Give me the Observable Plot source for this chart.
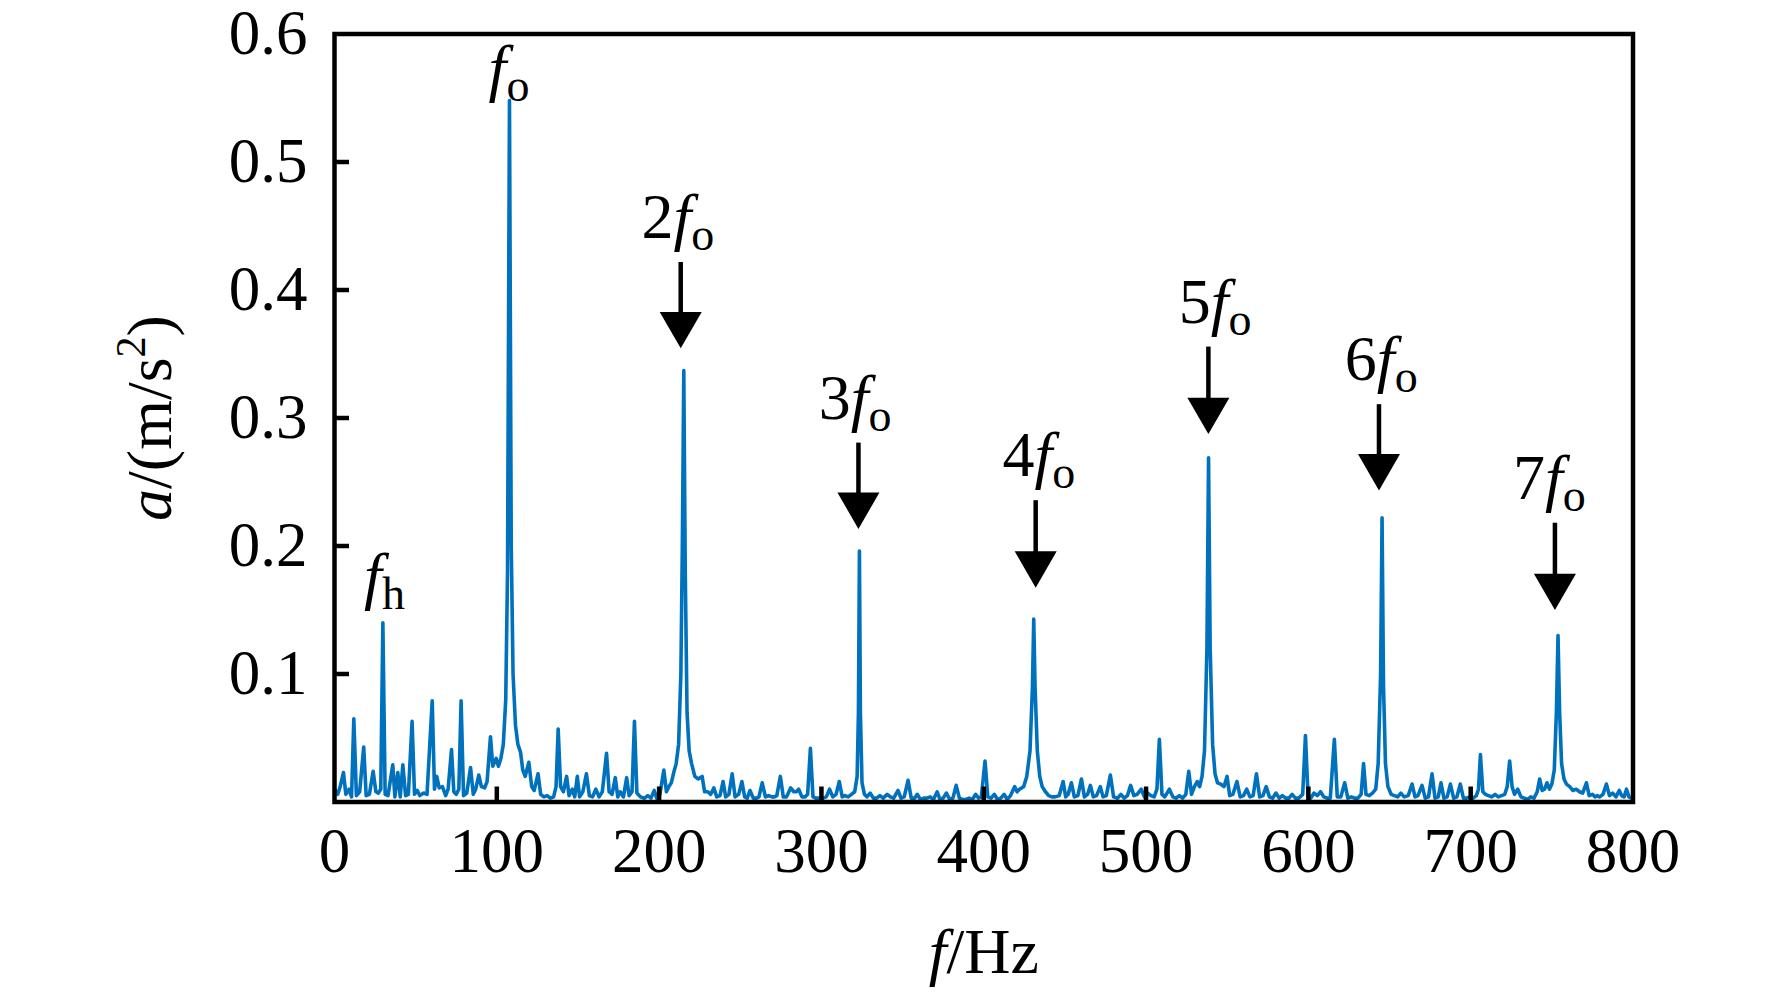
<!DOCTYPE html>
<html>
<head>
<meta charset="utf-8">
<script src="https://cdn.jsdelivr.net/npm/d3@7"></script>
<script src="https://cdn.jsdelivr.net/npm/@observablehq/plot@0.6"></script>
<style>
  html, body { margin: 0; padding: 0; background: #fff; }
  svg { display: block; }
</style>
</head>
<body>
<div id="chart"></div>
<script>
// ---- data ----
// spectrum: [frequency (Hz), acceleration amplitude (m/s^2)]
const spectrum = [
  [0,0.010],[2,0.006],[3.5,0.012],[5.5,0.023],[7,0.006],[9,0.010],[10.5,0.004],[11.9,0.065],
  [13.5,0.005],[15.5,0.008],[18,0.043],[19.5,0.005],[21.5,0.006],[23.8,0.024],[25.5,0.008],
  [27,0.007],[28.5,0.010],[29.8,0.140],[31.2,0.006],[33,0.005],[35.9,0.029],[37.2,0.004],
  [39,0.023],[40.5,0.004],[42.1,0.029],[43.8,0.005],[45.5,0.006],[47.8,0.063],[49.3,0.006],
  [51,0.009],[52.5,0.005],[55,0.007],[57,0.006],[60.2,0.079],[61.6,0.010],[63,0.020],
  [64.5,0.011],[66.5,0.012],[68.5,0.005],[70,0.010],[72.1,0.041],[73.5,0.008],[75,0.006],
  [76.6,0.010],[78,0.079],[79.5,0.005],[81.5,0.007],[83.8,0.027],[85.5,0.006],[87,0.010],
  [88.9,0.021],[90.5,0.012],[92.5,0.011],[94,0.016],[96.1,0.051],[97.5,0.028],[99.6,0.034],
  [101,0.028],[102.5,0.034],[104,0.045],[105.5,0.080],[106.6,0.180],[107.8,0.548],[108.9,0.200],
  [110,0.100],[111.5,0.060],[113,0.045],[114.6,0.039],[116,0.025],[117.5,0.020],[119.7,0.031],
  [121.5,0.012],[123,0.009],[125.4,0.022],[127,0.006],[129,0.004],[131,0.005],[133,0.003],
  [135,0.004],[136.5,0.012],[137.8,0.057],[139.3,0.012],[141,0.008],[143,0.020],[144.5,0.005],
  [146.5,0.010],[148,0.004],[149.6,0.020],[151,0.004],[153,0.008],[155.2,0.022],[157,0.005],
  [159,0.004],[161,0.010],[163,0.004],[165,0.008],[167.6,0.038],[169.2,0.008],[171,0.006],
  [173,0.019],[174.5,0.004],[176,0.008],[178,0.004],[180,0.019],[181.5,0.005],[183.3,0.008],
  [184.8,0.063],[186.3,0.007],[188.5,0.004],[191,0.003],[193,0.005],[195,0.003],[197,0.009],
  [198.5,0.003],[200.5,0.006],[202.9,0.025],[204.5,0.008],[206,0.012],[207.5,0.015],[209,0.023],
  [210.5,0.030],[212,0.045],[213.4,0.100],[214.3,0.200],[215.2,0.337],[216.1,0.180],[217.2,0.070],
  [218.5,0.040],[220,0.030],[222,0.020],[224,0.018],[226.5,0.020],[228,0.008],[230,0.008],
  [231.8,0.006],[233.7,0.011],[235.5,0.004],[237.5,0.005],[239.4,0.016],[241,0.004],[243,0.006],
  [245,0.022],[246.8,0.004],[249,0.006],[251,0.016],[252.7,0.004],[254.3,0.003],[256,0.009],
  [258,0.003],[260,0.003],[261.5,0.004],[263.5,0.015],[265.5,0.004],[267.5,0.005],[269.5,0.004],
  [271,0.004],[272.5,0.005],[274.7,0.020],[276.5,0.004],[278.5,0.004],[281,0.011],[283,0.008],
  [284.5,0.008],[286,0.010],[288,0.004],[290,0.004],[291.5,0.006],[293.2,0.042],[294.8,0.004],
  [296.5,0.003],[299,0.003],[301,0.003],[303,0.004],[305,0.010],[307,0.004],[309,0.006],
  [311,0.016],[312.8,0.004],[314.5,0.005],[316.5,0.004],[318.5,0.006],[320.5,0.008],[322,0.020],
  [322.8,0.070],[323.4,0.196],[324,0.070],[325,0.015],[326.5,0.006],[328,0.004],[330,0.007],
  [332,0.003],[334,0.003],[336,0.005],[338,0.003],[340.5,0.006],[342.5,0.004],[344.5,0.003],
  [347.2,0.009],[349,0.003],[351,0.004],[353.4,0.017],[355.3,0.003],[357.5,0.003],[359,0.006],
  [361,0.002],[363,0.003],[365,0.003],[367,0.004],[369,0.002],[371.3,0.008],[373,0.002],
  [375,0.003],[377,0.007],[379,0.002],[381,0.003],[383,0.013],[385,0.003],[387,0.002],
  [389,0.002],[391,0.003],[393,0.002],[395,0.006],[396.8,0.003],[398.5,0.004],[400.8,0.032],
  [402.5,0.004],[404.5,0.003],[406.5,0.006],[408.5,0.002],[410.5,0.003],[412.5,0.006],[414.5,0.002],
  [416.5,0.005],[419,0.012],[420.5,0.008],[422,0.010],[424.6,0.012],[426.5,0.020],[428.5,0.040],
  [430,0.090],[430.8,0.143],[431.6,0.090],[433,0.040],[434.5,0.020],[436,0.012],[438,0.008],
  [440,0.005],[442,0.004],[444,0.004],[446.5,0.005],[448.9,0.016],[450.5,0.004],[452,0.006],
  [454,0.015],[455.8,0.004],[458,0.005],[460.2,0.018],[462,0.004],[464,0.006],[465.7,0.013],
  [467.5,0.004],[469.5,0.005],[471.8,0.012],[473.5,0.004],[475.5,0.005],[478,0.021],[480,0.004],
  [482.5,0.003],[484.5,0.006],[486.5,0.003],[488.5,0.005],[490.5,0.013],[492.5,0.005],[494.5,0.006],
  [497,0.010],[499,0.004],[501,0.007],[503,0.005],[505,0.004],[506.7,0.010],[508.2,0.049],
  [509.8,0.006],[511.5,0.004],[514.4,0.010],[516.5,0.004],[518.5,0.003],[520.5,0.005],[522.5,0.003],
  [524.5,0.006],[526.3,0.024],[528,0.006],[529.8,0.012],[531.5,0.016],[533,0.012],[534.5,0.020],
  [536,0.040],[537.5,0.120],[538.5,0.269],[539.5,0.120],[541,0.045],[542.5,0.022],[544,0.015],
  [546,0.014],[548,0.012],[549.9,0.020],[551.5,0.005],[553.5,0.006],[556,0.016],[558,0.004],
  [560,0.005],[562,0.010],[564,0.004],[566,0.005],[568,0.022],[570,0.004],[572,0.005],
  [574,0.012],[576,0.004],[578,0.003],[580,0.007],[582,0.003],[584,0.005],[586,0.003],
  [588,0.003],[590,0.006],[592,0.003],[594,0.003],[596.5,0.006],[598.2,0.052],[599.8,0.004],
  [601.5,0.003],[603.5,0.007],[605.5,0.005],[607.5,0.008],[609.5,0.004],[611.5,0.003],[613.5,0.003],
  [616,0.049],[617.8,0.004],[620,0.004],[622.4,0.015],[624.3,0.003],[626.5,0.004],[628.5,0.003],
  [630.5,0.003],[632.5,0.006],[634,0.030],[635.5,0.006],[637.5,0.005],[639.5,0.007],[641.5,0.010],
  [643,0.030],[644.5,0.100],[645.4,0.222],[646.3,0.090],[647.5,0.030],[649,0.012],[651,0.006],
  [653,0.005],[655,0.004],[657,0.007],[659,0.004],[661.5,0.005],[663.9,0.014],[665.7,0.004],
  [667.5,0.005],[670,0.013],[672,0.003],[674,0.004],[676.2,0.022],[678,0.003],[680,0.004],
  [681.7,0.015],[683.5,0.003],[685.5,0.004],[687.5,0.014],[689.5,0.003],[691.5,0.004],[693.6,0.014],
  [695.5,0.003],[697.5,0.003],[699.5,0.004],[701.5,0.003],[703.5,0.005],[704.8,0.010],[706,0.037],
  [707.5,0.008],[709,0.006],[711,0.005],[713,0.004],[715,0.006],[717,0.004],[719,0.005],
  [721,0.006],[722.5,0.012],[724,0.032],[725.5,0.012],[727,0.006],[729,0.010],[731,0.004],
  [733,0.003],[735,0.002],[737,0.004],[739,0.003],[741,0.008],[742.5,0.018],[744,0.009],
  [745.5,0.010],[747,0.015],[748.5,0.010],[750,0.014],[751.5,0.025],[752.8,0.070],[753.8,0.130],
  [754.8,0.070],[756,0.030],[757.5,0.018],[759,0.014],[761,0.012],[763,0.009],[765,0.010],
  [767,0.008],[769,0.007],[771.3,0.015],[773,0.005],[775,0.006],[776.5,0.004],[778,0.005],
  [779.5,0.004],[781.5,0.006],[783.6,0.014],[785.5,0.005],[787.5,0.007],[789.5,0.004],[791.5,0.009],
  [793,0.005],[794.5,0.004],[796,0.010],[797.5,0.004],[799,0.003],[800,0.004]
];

// peak annotations
const labelText = ["fh", "fo", "2fo", "3fo", "4fo", "5fo", "6fo", "7fo"];
const labelFreq = [30.8, 107.5, 211.6, 320.7, 434.0, 542.6, 644.9, 748.5];
const labelAmp  = [0.1605, 0.557, 0.4405, 0.2994, 0.2544, 0.3744, 0.3294, 0.2368];

// arrows pointing at the harmonics
const arrowFreq = [213.3, 322.8, 432.0, 538.4, 643.5, 751.9];
const arrowTop  = [0.4215, 0.2804, 0.2354, 0.3554, 0.3104, 0.2178];
const arrowTip  = [0.3545, 0.2134, 0.1675, 0.2875, 0.2434, 0.1500];

// axes
const xTickLabels = [0, 100, 200, 300, 400, 500, 600, 700, 800];
const xTickMarks  = [100, 200, 300, 400, 500, 600, 700];
const yTickLabels = [0.1, 0.2, 0.3, 0.4, 0.5, 0.6];
const yTickMarks  = [0.1, 0.2, 0.3, 0.4, 0.5];
const xTitle = "f/Hz";
const yTitle = "a/(m/s2)";

// ---- chart ----
const W = 1772, H = 994;
const mL = 334, mR = 139.5, mT = 33.5, mB = 192.5;
const plotW = W - mL - mR, plotH = H - mT - mB;
const font = "'Liberation Serif', 'Times New Roman', serif";
const blue = "#0072BD";

const labels = labelText.map((t, i) => ({t, x: labelFreq[i], y: labelAmp[i]}));
const arrows = arrowFreq.map((x, i) => ({x, top: arrowTop[i], tip: arrowTip[i]}));

const svg = Plot.plot({
  width: W, height: H,
  marginLeft: mL, marginRight: mR, marginTop: mT, marginBottom: mB,
  style: {fontFamily: font, background: "#fff", color: "#000", overflow: "visible"},
  x: {domain: [0, 800], label: null},
  y: {domain: [0, 0.6], label: null},
  marks: [
    Plot.line(spectrum, {x: d => d[0], y: d => d[1], stroke: blue, strokeWidth: 3.6, strokeLinejoin: "round"}),
    Plot.tickY(yTickMarks, {y: d => d, stroke: "#000", strokeWidth: 4.5, insetRight: plotW - 15}),
    Plot.tickX(xTickMarks, {x: d => d, stroke: "#000", strokeWidth: 4.5, insetTop: plotH - 15}),
    Plot.frame({stroke: "#000", strokeWidth: 4.5}),
    Plot.axisX(xTickLabels, {tickSize: 0, tickPadding: 25, fontSize: 63, label: null, tickFormat: d => String(d)}),
    Plot.axisY(yTickLabels, {tickSize: 0, tickPadding: 27, fontSize: 63, label: null, tickFormat: d => d.toFixed(1)}),
    Plot.ruleX(arrows, {x: "x", y1: "top", y2: "tip", stroke: "#000", strokeWidth: 4.5, insetBottom: 20}),
    Plot.dot(arrows, {x: "x", y: "tip", symbol: "triangle", r: 15.6, fill: "#000", stroke: null, rotate: 180, dy: -24.2}),
    Plot.text(labels, {x: "x", y: "y", text: "t", fontSize: 64, fill: "#000", textAnchor: "middle", lineAnchor: "middle", dy: -20.5}),
    Plot.text([xTitle], {text: d => d, frameAnchor: "bottom", textAnchor: "middle", lineAnchor: "middle", dy: 151, fontSize: 64, fill: "#000"}),
    Plot.text([yTitle], {text: d => d, frameAnchor: "left", textAnchor: "middle", lineAnchor: "middle", dx: -184, rotate: -90, fontSize: 64, fill: "#000"})
  ]
});

// typographic details: italic symbols, subscripts, superscript
d3.select(svg).selectAll("text").each(function () {
  const t = this.textContent;
  const sel = d3.select(this);
  const m = t.match(/^(\d*)f([oh])$/);
  if (m) {
    sel.text(null);
    if (m[1]) sel.append("tspan").text(m[1]);
    sel.append("tspan").attr("font-style", "italic").text("f");
    sel.append("tspan").attr("font-size", 46).attr("dy", 12).text(m[2]);
  } else if (t === xTitle) {
    sel.text(null);
    sel.append("tspan").attr("font-style", "italic").text("f");
    sel.append("tspan").text("/Hz");
  } else if (t === yTitle) {
    sel.text(null);
    sel.append("tspan").attr("font-style", "italic").text("a");
    sel.append("tspan").text("/(m/s");
    sel.append("tspan").attr("font-size", 42).attr("dy", -26).text("2");
    sel.append("tspan").attr("dy", 26).text(")");
  }
});

document.getElementById("chart").appendChild(svg);
</script>
</body>
</html>
